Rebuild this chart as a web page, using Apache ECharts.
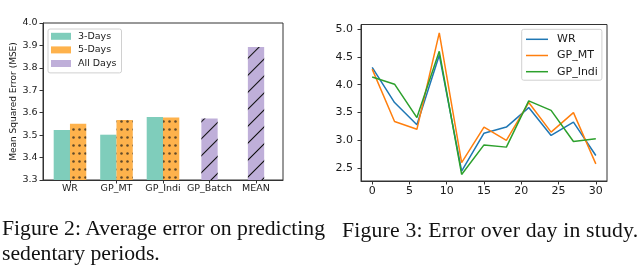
<!DOCTYPE html>
<html>
<head>
<meta charset="utf-8">
<script src="https://cdn.jsdelivr.net/npm/echarts@6/dist/echarts.min.js"></script>
<style>
  html, body { margin: 0; padding: 0; background: #fff; }
  #wrap { position: relative; width: 640px; height: 266px; overflow: hidden; }
  #chart { position: absolute; left: 0; top: 0; width: 640px; height: 266px; }
  .cap { position: absolute; font-family: "Liberation Serif", "Times New Roman", serif; font-size: 21.7px; color: #111; line-height: 24.5px; white-space: nowrap; }
</style>
</head>
<body>
<div id="wrap">
  <div id="chart"></div>
  <div class="cap" style="left:2px; top:216px;">Figure 2: Average error on predicting<br>sedentary periods.</div>
  <div class="cap" style="left:342px; top:218px; letter-spacing:0.2px;">Figure 3: Error over day in study.</div>
</div>
<script>
// ---- Figure 2 data ----
const categories = ['WR', 'GP_MT', 'GP_Indi', 'GP_Batch', 'MEAN'];
const threeDays = [3.523, 3.502, 3.581, null, null];
const fiveDays  = [3.551, 3.568, 3.579, null, null];
const allDays   = [null, null, null, 3.574, 3.893];
const mseTicks  = [3.3, 3.4, 3.5, 3.6, 3.7, 3.8, 3.9, 4.0];

// ---- Figure 3 data ----
const days   = [0, 3, 6, 9, 12, 15, 18, 21, 24, 27, 30];
const wr     = [4.31, 3.68, 3.28, 4.53, 2.45, 3.13, 3.24, 3.59, 3.09, 3.33, 2.73];
const gpMT   = [4.28, 3.34, 3.20, 4.93, 2.60, 3.24, 3.00, 3.68, 3.15, 3.50, 2.58];
const gpIndi = [4.14, 4.01, 3.41, 4.60, 2.39, 2.92, 2.88, 3.71, 3.54, 2.98, 3.03];
const dayTicks = [0, 5, 10, 15, 20, 25, 30];
const errTicks = [2.5, 3.0, 3.5, 4.0, 4.5, 5.0];

const catIdx = categories.map((c, i) => i);
function barData(vals, off) {
  const out = [];
  vals.forEach((v, i) => { if (v != null) out.push([i + off, v]); });
  return out;
}
function lineData(vals) { return days.map((d, i) => [d, vals[i]]); }

const font = 'DejaVu Sans';
const axisCol = '#333';
const tc = '#1a1a1a';

const chart = echarts.init(document.getElementById('chart'), null, { renderer: 'canvas' });

const dotDecal = { symbol: 'circle', symbolSize: 0.85, dashArrayX: [3, 2.5], dashArrayY: [3, 4.3], color: 'rgba(25,25,25,0.68)' };
const hatchDecal = { symbol: 'rect', symbolSize: 1, dashArrayX: [1, 0], dashArrayY: [1, 10.3], rotation: -Math.PI / 4, color: '#111' };
const noDecal = { symbol: 'rect', symbolSize: 1, color: 'rgba(0,0,0,0)' };

chart.setOption({
  animation: false,
  grid: [
    { left: 43, top: 23, width: 240, height: 157, show: true, borderColor: axisCol, borderWidth: 1, backgroundColor: 'transparent' },
    { left: 361, top: 24.5, width: 246, height: 156.5, show: true, borderColor: axisCol, borderWidth: 1, backgroundColor: 'transparent' }
  ],
  legend: [
    {
      data: [
        { name: '3-Days' },
        { name: '5-Days', itemStyle: { decal: noDecal } },
        { name: 'All Days', itemStyle: { decal: noDecal } }
      ],
      orient: 'vertical', left: 48, top: 29,
      padding: [1.8, 5, 3.9, 3], itemWidth: 20, itemHeight: 7, itemGap: 2.6,
      borderColor: '#d0d0d0', borderWidth: 1, borderRadius: 2,
      icon: 'rect',
      textStyle: { fontFamily: font, fontSize: 9.5, color: tc, lineHeight: 11, padding: [0, 0, 0, 2] }
    },
    {
      data: ['WR', 'GP_MT', 'GP_Indi'],
      orient: 'vertical', left: 521.7, top: 29.3,
      padding: [3.5, 4, 2, 4.3], itemWidth: 22, itemHeight: 1.5, itemGap: 3.2,
      icon: 'rect',
      borderColor: '#d0d0d0', borderWidth: 1, borderRadius: 2,
      textStyle: { fontFamily: font, fontSize: 11, color: tc, lineHeight: 13, padding: [0, 0, 0, 4] }
    }
  ],
  xAxis: [
    {
      type: 'value', gridIndex: 0, min: -0.58, max: 4.58,
      axisLine: { show: true, onZero: false, lineStyle: { color: axisCol } },
      axisTick: { show: true, length: 3.5, customValues: catIdx, lineStyle: { color: axisCol } },
      axisLabel: { customValues: catIdx, formatter: v => categories[Math.round(v)], fontFamily: font, fontSize: 9.5, color: tc, margin: 4 },
      splitLine: { show: false }
    },
    {
      type: 'value', gridIndex: 1, min: -1.5, max: 31.5,
      axisLine: { show: true, onZero: false, lineStyle: { color: axisCol } },
      axisTick: { show: true, length: 3.5, customValues: dayTicks, lineStyle: { color: axisCol } },
      axisLabel: { customValues: dayTicks, fontFamily: font, fontSize: 11, color: tc, margin: 4.5 },
      splitLine: { show: false }
    }
  ],
  yAxis: [
    {
      type: 'value', gridIndex: 0, min: 3.3, max: 4.0,
      name: 'Mean Squared Error (MSE)', nameLocation: 'middle', nameGap: 23,
      nameTextStyle: { fontFamily: font, fontSize: 9, color: tc },
      axisLine: { show: true, onZero: false, lineStyle: { color: axisCol } },
      axisTick: { show: true, length: 3.5, customValues: mseTicks, lineStyle: { color: axisCol } },
      axisLabel: { customValues: mseTicks, formatter: v => v.toFixed(1), fontFamily: font, fontSize: 9.5, color: tc, margin: 5.5 },
      splitLine: { show: false }
    },
    {
      type: 'value', gridIndex: 1, min: 2.272, max: 5.081,
      axisLine: { show: true, onZero: false, lineStyle: { color: axisCol } },
      axisTick: { show: true, length: 3.5, customValues: errTicks, lineStyle: { color: axisCol } },
      axisLabel: { customValues: errTicks, formatter: v => v.toFixed(1), fontFamily: font, fontSize: 11, color: tc, margin: 8 },
      splitLine: { show: false }
    }
  ],
  series: [
    {
      name: '3-Days', type: 'bar', xAxisIndex: 0, yAxisIndex: 0,
      data: barData(threeDays, -0.175), barWidth: 16.3, barGap: '-100%',
      itemStyle: { color: '#7fcdbb' }
    },
    {
      name: '5-Days', type: 'bar', xAxisIndex: 0, yAxisIndex: 0,
      data: barData(fiveDays, 0.175), barWidth: 16.3, barGap: '-100%',
      itemStyle: { color: '#feb24c', decal: dotDecal }
    },
    {
      name: 'All Days', type: 'bar', xAxisIndex: 0, yAxisIndex: 0,
      data: barData(allDays, 0), barWidth: 16.3, barGap: '-100%',
      itemStyle: { color: '#bfafd9', decal: hatchDecal }
    },
    {
      name: 'WR', type: 'line', xAxisIndex: 1, yAxisIndex: 1, data: lineData(wr),
      symbol: 'none', showSymbol: false, color: '#1f77b4', lineStyle: { width: 1.5 }
    },
    {
      name: 'GP_MT', type: 'line', xAxisIndex: 1, yAxisIndex: 1, data: lineData(gpMT),
      symbol: 'none', showSymbol: false, color: '#ff7f0e', lineStyle: { width: 1.5 }
    },
    {
      name: 'GP_Indi', type: 'line', xAxisIndex: 1, yAxisIndex: 1, data: lineData(gpIndi),
      symbol: 'none', showSymbol: false, color: '#2ca02c', lineStyle: { width: 1.5 }
    }
  ]
});
</script>
</body>
</html>
